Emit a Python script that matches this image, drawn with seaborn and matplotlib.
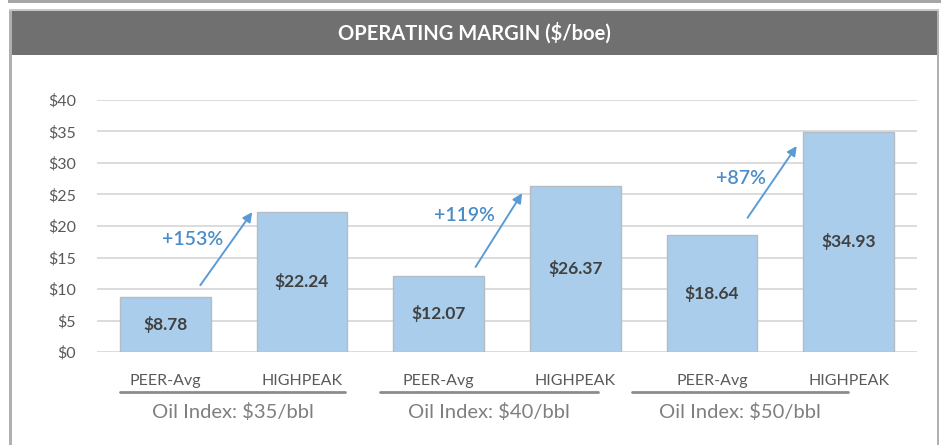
import matplotlib
matplotlib.use("Agg")
import matplotlib.pyplot as plt
from matplotlib.patches import Rectangle
from matplotlib.lines import Line2D
import seaborn as sns
import pandas as pd

# ---- data ----
groups = ["Oil Index: $35/bbl", "Oil Index: $40/bbl", "Oil Index: $50/bbl"]
companies = ["PEER-Avg", "HIGHPEAK"]
peer_values = [8.78, 12.07, 18.64]
highpeak_values = [22.24, 26.37, 34.93]
pct_labels = ["+153%", "+119%", "+87%"]
yticks = [0, 5, 10, 15, 20, 25, 30, 35, 40]
title = "OPERATING MARGIN ($/boe)"

keys, labels, vals = [], [], []
for g, p, h in zip(groups, peer_values, highpeak_values):
    for c, v in zip(companies, [p, h]):
        keys.append(f"{c}|{g}")
        labels.append(c)
        vals.append(v)
df = pd.DataFrame({"key": keys, "value": vals})

sns.set_theme(style="white")
plt.rcParams["font.family"] = ["Lato", "DejaVu Sans"]

W, H = 941, 445
fig = plt.figure(figsize=(W / 100, H / 100), dpi=100)
fig.patch.set_facecolor("white")

def fx(px):
    return px / W

def fy(py):
    return 1 - py / H

# outer decorations
fig.add_artist(Rectangle((fx(8), fy(3)), fx(941 - 8), 3 / H, transform=fig.transFigure,
                         facecolor="#a6a6a6", edgecolor="none"))
fig.add_artist(Rectangle((fx(9), fy(445)), fx(2.5), fy(9) - fy(445), transform=fig.transFigure,
                         facecolor="#b0b0b0", edgecolor="none"))
fig.add_artist(Rectangle((fx(936.5), fy(445)), fx(2.5), fy(9) - fy(445), transform=fig.transFigure,
                         facecolor="#b0b0b0", edgecolor="none"))
fig.add_artist(Rectangle((fx(9), fy(11)), fx(930), 2 / H, transform=fig.transFigure,
                         facecolor="#c8c8c8", edgecolor="none"))
fig.add_artist(Rectangle((fx(11.5), fy(55)), fx(925), fy(11) - fy(55), transform=fig.transFigure,
                         facecolor="#707070", edgecolor="none"))
fig.text(fx(474), fy(33), title, color="white", fontsize=14.5, fontweight="bold",
         ha="center", va="center")

ax = fig.add_axes([fx(97), fy(352), fx(917 - 97), (352 - 100) / H])
sns.barplot(data=df, x="key", y="value", order=keys, ax=ax, color="#a9cdea",
            width=0.665, edgecolor="#b4bcc4", linewidth=1.0, saturation=1)
ax.set_xlim(-0.5, 5.5)
ax.set_ylim(0, 40)
ax.set_yticks(yticks)
ax.set_yticklabels([f"${t}" for t in yticks], color="#595959", fontsize=11.5)
ax.set_xticks(range(len(labels)))
ax.set_xticklabels(labels, color="#595959", fontsize=11.5)
ax.tick_params(axis="x", length=0, pad=16)
ax.tick_params(axis="y", length=0, pad=15)
ax.set_xlabel("")
ax.set_ylabel("")
for s in ax.spines.values():
    s.set_visible(False)
ax.grid(axis="y", color="#d9d9d9", linewidth=1.3)
ax.set_axisbelow(True)
ax.set_facecolor("white")

# value labels
for i, v in enumerate(vals):
    ax.text(i, v / 2, f"${v:.2f}", ha="center", va="center", fontsize=12.5,
            fontweight="bold", color="#404040")

# growth arrows and labels
arrow_starts = [(0.256, 10.6), (2.27, 13.5), (4.26, 21.3)]
arrow_ends = [(0.636, 22.2), (2.61, 25.2), (4.62, 32.7)]
pct_pos = [(0.20, 17.8), (2.19, 21.6), (4.21, 27.6)]
blue = "#5b9bd5"
for s, e, p, t in zip(arrow_starts, arrow_ends, pct_pos, pct_labels):
    ax.annotate("", xy=e, xytext=s,
                arrowprops=dict(arrowstyle="-|>", color=blue, lw=1.4,
                                mutation_scale=14, shrinkA=0, shrinkB=0))
    ax.text(p[0], p[1], t, color="#4a8cc8", fontsize=14, fontweight="semibold",
            ha="center", va="center")

# group underline and labels
tr = ax.get_xaxis_transform()
group_spans = [(-0.33, 1.317), (1.573, 3.168), (3.416, 4.996)]
for (a, b), g in zip(group_spans, groups):
    ax.add_line(Line2D([a, b], [-0.159, -0.159], transform=tr, color="#8c8c8c",
                       lw=2, clip_on=False))
    ax.text((a + b) / 2, -0.238, g, transform=tr, ha="center", va="center",
            fontsize=14.5, color="#7f7f7f")

fig.savefig("out.png", dpi=100)
